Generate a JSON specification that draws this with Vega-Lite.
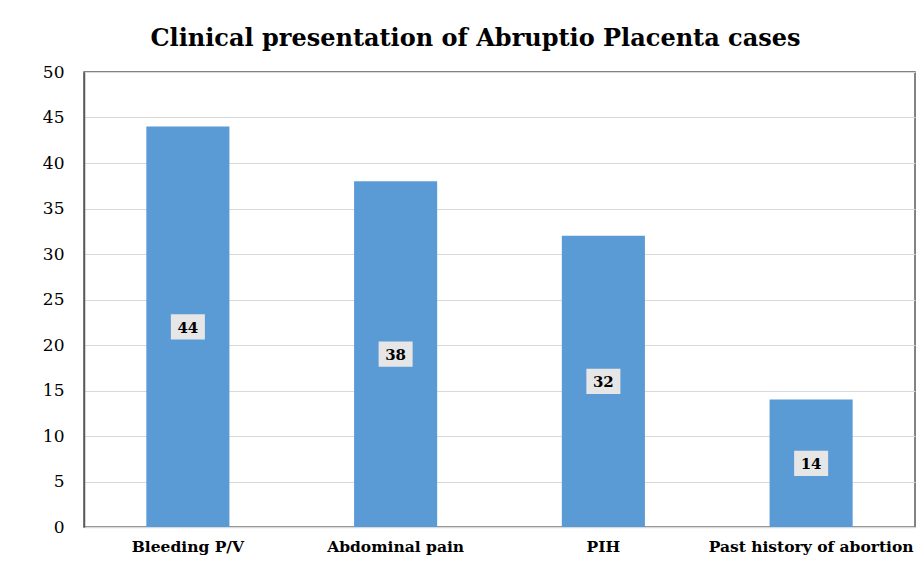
{
  "$schema": "https://vega.github.io/schema/vega-lite/v6.json",
  "autosize": {"type": "none"},
  "width": 831,
  "height": 455,
  "padding": {"left": 84, "top": 72, "right": 5, "bottom": 48},
  "background": "white",
  "title": {
    "text": "Clinical presentation of Abruptio Placenta cases",
    "font": "DejaVu Serif",
    "fontSize": 24,
    "fontWeight": "bold",
    "color": "#000000",
    "anchor": "middle",
    "dx": -24,
    "offset": 12
  },
  "config": {
    "view": {"stroke": "#595959", "strokeWidth": 1.5},
    "font": "DejaVu Serif"
  },
  "data": {
    "values": [
      {"category": "Bleeding P/V", "value": 44},
      {"category": "Abdominal pain", "value": 38},
      {"category": "PIH", "value": 32},
      {"category": "Past history of abortion", "value": 14}
    ]
  },
  "encoding": {
    "x": {
      "field": "category",
      "type": "nominal",
      "sort": null,
      "scale": {"paddingInner": 0.6, "paddingOuter": 0.3},
      "axis": {
        "title": null,
        "labelAngle": 0,
        "labelFont": "DejaVu Serif",
        "labelFontSize": 15.5,
        "labelFontWeight": "bold",
        "labelColor": "#000000",
        "labelPadding": 12,
        "labelLimit": 0,
        "ticks": false,
        "domainColor": "#D9D9D9",
        "domainWidth": 1.5
      }
    }
  },
  "layer": [
    {
      "mark": {"type": "bar", "color": "#5B9BD5"},
      "encoding": {
        "y": {
          "field": "value",
          "type": "quantitative",
          "scale": {"domain": [0, 50]},
          "axis": {
            "title": null,
            "values": [0, 5, 10, 15, 20, 25, 30, 35, 40, 45, 50],
            "labelFont": "DejaVu Serif",
            "labelFontSize": 17,
            "labelColor": "#000000",
            "labelPadding": 20,
            "ticks": false,
            "domainColor": "#595959",
            "domainWidth": 1.5,
            "gridColor": "#D9D9D9",
            "gridWidth": 1
          }
        }
      }
    },
    {
      "mark": {
        "type": "point",
        "shape": "M-1,-0.74 L1,-0.74 L1,0.74 L-1,0.74 Z",
        "size": 1156,
        "filled": true,
        "color": "#E7E6E6",
        "opacity": 1,
        "strokeWidth": 0
      },
      "encoding": {
        "y": {
          "field": "value",
          "type": "quantitative",
          "scale": {"domain": [0, 100]},
          "axis": null
        }
      }
    },
    {
      "mark": {
        "type": "text",
        "font": "DejaVu Serif",
        "fontSize": 15,
        "fontWeight": "bold",
        "color": "#000000",
        "baseline": "middle",
        "dy": 1
      },
      "encoding": {
        "y": {
          "field": "value",
          "type": "quantitative",
          "scale": {"domain": [0, 100]},
          "axis": null
        },
        "text": {"field": "value", "type": "quantitative"}
      }
    }
  ],
  "resolve": {"scale": {"y": "independent"}}
}
